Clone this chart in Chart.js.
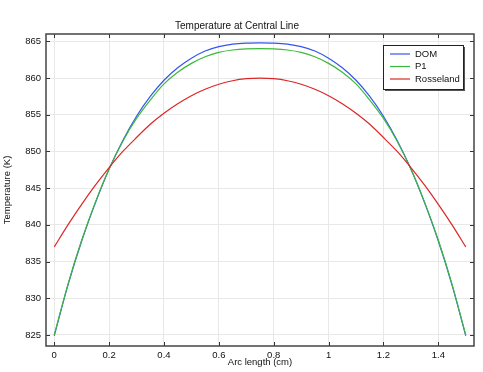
<!DOCTYPE html>
<html>
<head>
<meta charset="utf-8">
<style>
  html, body { margin: 0; padding: 0; background: #fff; }
  #wrap { width: 483px; height: 372px; }
</style>
</head>
<body>
<div id="wrap">
  <canvas id="myChart" width="483" height="372"></canvas>
</div>

<script src="https://cdn.jsdelivr.net/npm/chart.js"></script>
<script>
    // arc length along the central line (cm)
    const arcLength = [0, 0.05, 0.1, 0.15, 0.2, 0.25, 0.3, 0.35, 0.4, 0.45, 0.5, 0.55, 0.6, 0.65, 0.7, 0.75,
                       0.8, 0.85, 0.9, 0.95, 1.0, 1.05, 1.1, 1.15, 1.2, 1.25, 1.3, 1.35, 1.4, 1.45, 1.5];
    // temperature (K)
    const domTemp = [824.9, 831.8, 837.8, 843.0, 847.6, 851.5, 854.8, 857.5, 859.7, 861.4, 862.7, 863.68, 864.28, 864.63, 864.77, 864.8,
                     864.77, 864.63, 864.28, 863.68, 862.7, 861.4, 859.7, 857.5, 854.8, 851.5, 847.6, 843.0, 837.8, 831.8, 824.9];
    const p1Temp = [825.0, 831.9, 837.9, 843.1, 847.6, 851.4, 854.5, 857.0, 859.2, 860.8, 862.0, 862.9, 863.5, 863.82, 863.97, 864.0,
                    863.97, 863.82, 863.5, 862.9, 862.0, 860.8, 859.2, 857.0, 854.5, 851.4, 847.6, 843.1, 837.9, 831.9, 825.0];
    const rosselandTemp = [837.0, 840.0, 842.8, 845.4, 847.8, 850.0, 851.9, 853.7, 855.2, 856.5, 857.6, 858.47, 859.15, 859.63, 859.91, 860.0,
                           859.91, 859.63, 859.15, 858.47, 857.6, 856.5, 855.2, 853.7, 851.9, 850.0, 847.8, 845.4, 842.8, 840.0, 837.0];

    const seriesNames = ['DOM', 'P1', 'Rosseland'];
    const seriesColors = ['#3355ee', '#3cb83c', '#dd2626'];

    const FONT = 'Liberation Sans, Arial, sans-serif';

    function toPoints(ys) {
        return arcLength.map((x, i) => ({x: x, y: ys[i]}));
    }

    // frame, inward ticks on all sides and the boxed legend
    const framePlugin = {
        id: 'frame',
        afterDraw(chart) {
            const {ctx, chartArea: a, scales} = chart;
            const xs = scales.x, ys = scales.y;
            ctx.save();
            ctx.strokeStyle = '#333';
            ctx.lineWidth = 1;
            ctx.beginPath();
            xs.ticks.forEach(t => {
                const px = Math.round(xs.getPixelForValue(t.value)) + 0.5;
                ctx.moveTo(px, a.bottom); ctx.lineTo(px, a.bottom - 4);
                ctx.moveTo(px, a.top); ctx.lineTo(px, a.top + 4);
            });
            ys.ticks.forEach(t => {
                const py = Math.round(ys.getPixelForValue(t.value)) + 0.5;
                ctx.moveTo(a.left, py); ctx.lineTo(a.left + 4, py);
                ctx.moveTo(a.right, py); ctx.lineTo(a.right - 4, py);
            });
            ctx.stroke();

            ctx.lineWidth = 1.5;
            ctx.strokeStyle = '#444';
            ctx.strokeRect(a.left, a.top, a.width, a.height);

            // legend
            const w = 80, h = 44;
            const lx = a.right - 11 - w, ly = a.top + 11;
            ctx.fillStyle = '#555';
            ctx.fillRect(lx + 2, ly + 2, w, h);
            ctx.fillStyle = '#fff';
            ctx.fillRect(lx, ly, w, h);
            ctx.lineWidth = 1;
            ctx.strokeStyle = '#222';
            ctx.strokeRect(lx + 0.5, ly + 0.5, w, h);
            ctx.font = '9.5px ' + FONT;
            ctx.textBaseline = 'middle';
            chart.data.datasets.forEach((ds, i) => {
                const ry = ly + 9 + i * 12.5;
                ctx.strokeStyle = ds.borderColor;
                ctx.lineWidth = 1.2;
                ctx.beginPath();
                ctx.moveTo(lx + 7, ry); ctx.lineTo(lx + 27, ry);
                ctx.stroke();
                ctx.fillStyle = '#111';
                ctx.fillText(ds.label, lx + 32, ry);
            });
            ctx.restore();
        }
    };

    const ctx = document.getElementById('myChart');
    const myChart = new Chart(ctx, {
        type: 'line',
        data: {
            datasets: [
                {label: seriesNames[0], data: toPoints(domTemp), borderColor: seriesColors[0], order: 2},
                {label: seriesNames[1], data: toPoints(p1Temp), borderColor: seriesColors[1], order: 1},
                {label: seriesNames[2], data: toPoints(rosselandTemp), borderColor: seriesColors[2], order: 0}
            ]
        },
        options: {
            responsive: false,
            animation: false,
            layout: { padding: { left: 0, right: 9, top: 0, bottom: 0 } },
            elements: {
                line: { borderWidth: 1.2, tension: 0.3, fill: false },
                point: { radius: 0 }
            },
            plugins: {
                legend: { display: false },
                tooltip: { enabled: false },
                title: {
                    display: true,
                    text: 'Temperature at Central Line',
                    color: '#111',
                    font: { family: FONT, size: 10, weight: 'normal' },
                    padding: { top: 20, bottom: 2 }
                }
            },
            scales: {
                x: {
                    type: 'linear',
                    min: -0.03,
                    max: 1.53,
                    afterFit: s => { s.height = 26; },
                    border: { display: false },
                    grid: { color: '#e8e8e8', drawTicks: false },
                    ticks: {
                        stepSize: 0.2,
                        includeBounds: false,
                        padding: 4,
                        color: '#111',
                        font: { family: FONT, size: 9.5 },
                        maxRotation: 0,
                        callback: v => String(Number(v.toFixed(1)))
                    },
                    title: {
                        display: true,
                        text: 'Arc length (cm)',
                        color: '#111',
                        font: { family: FONT, size: 9.5 },
                        padding: { top: 0, bottom: 4 }
                    }
                },
                y: {
                    type: 'linear',
                    min: 823.5,
                    max: 866,
                    afterFit: s => { s.width = 46; },
                    border: { display: false },
                    grid: { color: '#e8e8e8', drawTicks: false },
                    ticks: {
                        stepSize: 5,
                        includeBounds: false,
                        padding: 5,
                        color: '#111',
                        font: { family: FONT, size: 9.5 }
                    },
                    title: {
                        display: true,
                        text: 'Temperature (K)',
                        color: '#111',
                        font: { family: FONT, size: 9.5 },
                        padding: { top: 2, bottom: 0 }
                    }
                }
            }
        },
        plugins: [framePlugin]
    });
</script>
</body>
</html>
